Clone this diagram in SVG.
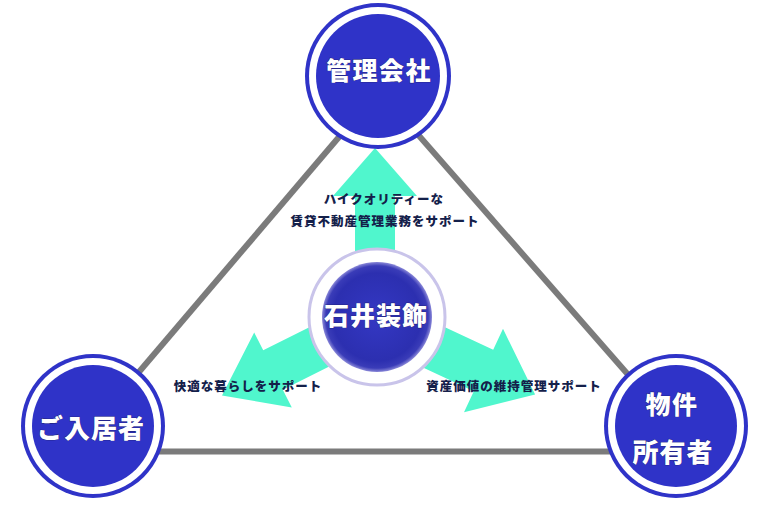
<svg xmlns="http://www.w3.org/2000/svg" width="768" height="505" viewBox="0 0 768 505">
<defs>
<style>
.edge{stroke:#7b7b7b;stroke-width:6;fill:none}
.arrow{fill:#50f6cd}
.ring{fill:#2f33c8}
.gap{fill:#ffffff}
.core{fill:#2f33c8}
.lbl{font-family:"Noto Sans CJK JP","Noto Sans CJK SC",sans-serif;font-weight:900;fill:#ffffff;text-anchor:middle;stroke:#1a1a60;stroke-width:0.6;paint-order:stroke}
.cap{font-family:"Noto Sans CJK JP","Noto Sans CJK SC",sans-serif;font-weight:900;font-size:12.5px;letter-spacing:1px;fill:#14204a;text-anchor:middle}
</style>
<radialGradient id="cg" cx="50%" cy="50%" r="50%">
<stop offset="0" stop-color="#3438c4"/>
<stop offset="0.8" stop-color="#2c2fb0"/>
<stop offset="0.93" stop-color="#3a3cb8"/>
<stop offset="1" stop-color="#8a88d8"/>
</radialGradient>
</defs>
<rect width="768" height="505" fill="#ffffff"/>
<g id="connectors">
<line class="edge" x1="379" y1="90" x2="93" y2="426"/>
<line class="edge" x1="379" y1="90" x2="673" y2="426"/>
<line class="edge" x1="93" y1="451.5" x2="676" y2="451.5"/>
<polygon class="arrow" points="355,270 355,196 333,196 375,148 417,196 395,196 395,270"/>
<polygon class="arrow" points="370.5,296.7 263.2,350.3 254.2,332.5 222,395.5 291.8,407.5 282.8,389.7 390.1,336.1"/>
<polygon class="arrow" points="384.5,298.9 493.2,349.7 503,328.8 535.1,394.6 464,412.2 473.8,391.3 365.1,340.5"/>
</g>
<g id="caption-top">
<text class="cap" x="384" y="204">ハイクオリティーな</text>
<text class="cap" x="385" y="226">賃貸不動産管理業務をサポート</text>
</g>
<g id="caption-left">
<text class="cap" x="248" y="391">快適な暮らしをサポート</text>
</g>
<g id="caption-right">
<text class="cap" x="514" y="391">資産価値の維持管理サポート</text>
</g>
<g id="node-kanri">
<circle class="ring" cx="378" cy="76" r="73"/>
<circle class="gap" cx="378" cy="76" r="69"/>
<circle class="core" cx="378" cy="76" r="62"/>
<text class="lbl" x="379" y="80" font-size="25" letter-spacing="1.5">管理会社</text>
</g>
<g id="node-nyukyo">
<circle class="ring" cx="93" cy="426" r="72"/>
<circle class="gap" cx="93" cy="426" r="68"/>
<circle class="core" cx="93" cy="426" r="61"/>
<text class="lbl" x="91" y="438" font-size="26" letter-spacing="1">ご入居者</text>
</g>
<g id="node-owner">
<circle class="ring" cx="676" cy="426" r="72"/>
<circle class="gap" cx="676" cy="426" r="68"/>
<circle class="core" cx="676" cy="426" r="61"/>
<text class="lbl" x="672" y="414" font-size="25" letter-spacing="1.5">物件</text>
<text class="lbl" x="673" y="462" font-size="26" letter-spacing="1">所有者</text>
</g>
<g id="node-ishii">
<circle cx="377" cy="317" r="68" fill="#ffffff" stroke="#c9c4ea" stroke-width="3"/>
<circle cx="377" cy="317" r="55" fill="url(#cg)"/>
<text class="lbl" x="376" y="325" font-size="25" letter-spacing="1">石井装飾</text>
</g>
</svg>
